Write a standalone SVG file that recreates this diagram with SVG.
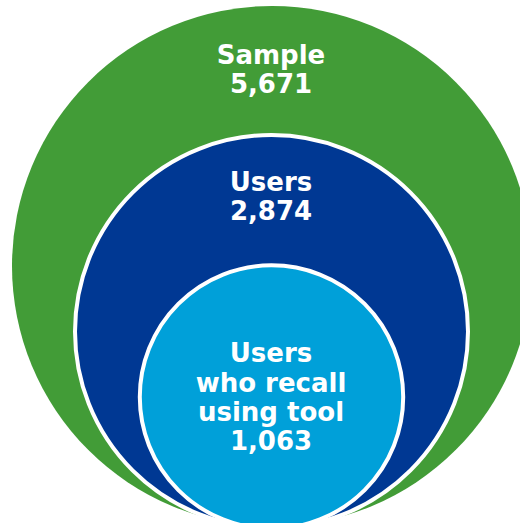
<svg xmlns="http://www.w3.org/2000/svg" width="520" height="523" viewBox="0 0 520 523">
  <style>
    .lbl { font-family: "DejaVu Sans", Verdana, sans-serif; font-weight: bold; font-size: 26px; fill: #ffffff; text-anchor: middle; }
    .ring { stroke: #ffffff; stroke-width: 4; }
  </style>
  <rect width="520" height="523" fill="#ffffff"/>
  <g id="sample">
    <circle cx="272" cy="266" r="260" fill="#429C37"/>
    <text class="lbl" x="271" y="64">Sample</text>
    <text class="lbl" x="271" y="93">5,671</text>
  </g>
  <g id="users">
    <circle class="ring" cx="271.5" cy="331.5" r="196.5" fill="#003893"/>
    <text class="lbl" x="271" y="191">Users</text>
    <text class="lbl" x="271" y="219.5">2,874</text>
  </g>
  <g id="recall">
    <circle class="ring" cx="271.5" cy="397" r="131.7" fill="#00A0D9"/>
    <text class="lbl" x="271" y="362">Users</text>
    <text class="lbl" x="271" y="391.5">who recall</text>
    <text class="lbl" x="271" y="421">using tool</text>
    <text class="lbl" x="271" y="450">1,063</text>
  </g>
  <g id="connectors"/>
</svg>
